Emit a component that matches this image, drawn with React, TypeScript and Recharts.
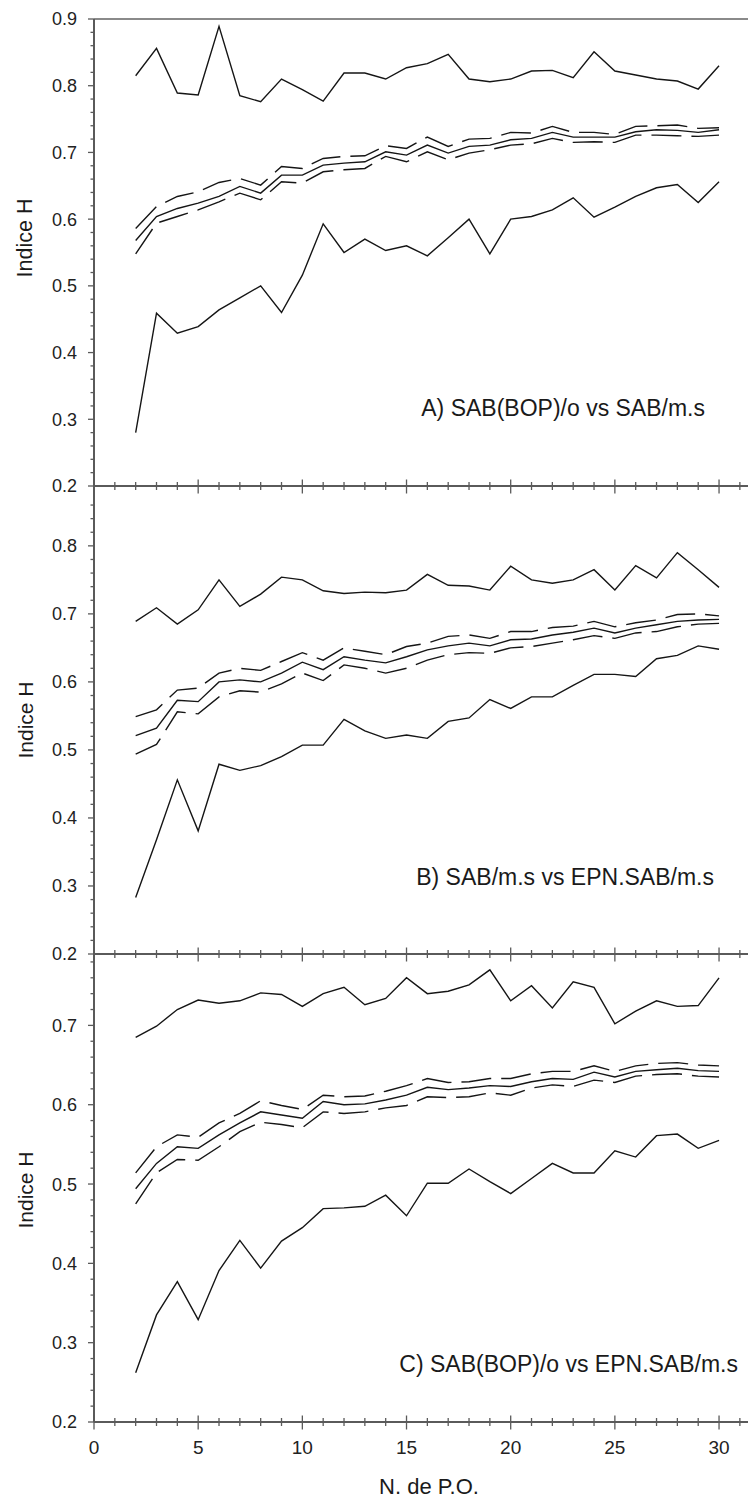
import React from 'react';
import { LineChart, Line, XAxis, YAxis, ReferenceLine } from 'recharts';

if (typeof document !== 'undefined') {
  document.body.style.margin = '0';
  document.body.style.overflow = 'hidden';
}

const nValues = [2, 3, 4, 5, 6, 7, 8, 9, 10, 11, 12, 13, 14, 15, 16, 17, 18, 19, 20, 21, 22, 23, 24, 25, 26, 27, 28, 29, 30];

// Panel A
const aMax = [0.815, 0.856, 0.789, 0.786, 0.889, 0.785, 0.776, 0.810, 0.794, 0.777, 0.819, 0.819, 0.810, 0.827, 0.833, 0.847, 0.810, 0.806, 0.810, 0.822, 0.823, 0.812, 0.851, 0.822, 0.816, 0.810, 0.807, 0.795, 0.830];
const aMin = [0.280, 0.459, 0.429, 0.439, 0.464, 0.482, 0.500, 0.460, 0.516, 0.593, 0.550, 0.570, 0.553, 0.560, 0.545, 0.572, 0.600, 0.548, 0.600, 0.604, 0.614, 0.632, 0.603, 0.618, 0.634, 0.647, 0.652, 0.625, 0.656];
const aMean = [0.568, 0.604, 0.616, 0.624, 0.634, 0.649, 0.639, 0.666, 0.666, 0.681, 0.684, 0.686, 0.701, 0.696, 0.711, 0.699, 0.709, 0.711, 0.719, 0.721, 0.730, 0.723, 0.723, 0.723, 0.731, 0.734, 0.733, 0.730, 0.734];
const aUpper = [0.586, 0.619, 0.634, 0.641, 0.655, 0.661, 0.651, 0.679, 0.676, 0.691, 0.694, 0.695, 0.710, 0.706, 0.723, 0.709, 0.720, 0.721, 0.730, 0.729, 0.739, 0.730, 0.730, 0.727, 0.739, 0.740, 0.741, 0.736, 0.737];
const aLower = [0.548, 0.594, 0.604, 0.614, 0.626, 0.639, 0.629, 0.656, 0.654, 0.671, 0.674, 0.676, 0.694, 0.686, 0.701, 0.689, 0.699, 0.704, 0.711, 0.713, 0.721, 0.715, 0.716, 0.715, 0.726, 0.726, 0.725, 0.724, 0.726];

// Panel B
const bMax = [0.689, 0.709, 0.685, 0.706, 0.750, 0.711, 0.729, 0.754, 0.750, 0.734, 0.730, 0.732, 0.731, 0.735, 0.758, 0.742, 0.741, 0.735, 0.770, 0.750, 0.745, 0.750, 0.765, 0.735, 0.771, 0.753, 0.790, 0.765, 0.739];
const bMin = [0.283, 0.368, 0.456, 0.381, 0.479, 0.470, 0.477, 0.490, 0.507, 0.507, 0.545, 0.528, 0.517, 0.522, 0.517, 0.542, 0.547, 0.574, 0.561, 0.578, 0.578, 0.595, 0.611, 0.611, 0.608, 0.634, 0.639, 0.653, 0.648];
const bMean = [0.521, 0.532, 0.573, 0.571, 0.600, 0.603, 0.600, 0.613, 0.629, 0.618, 0.637, 0.632, 0.628, 0.637, 0.647, 0.653, 0.657, 0.653, 0.662, 0.663, 0.669, 0.673, 0.679, 0.672, 0.679, 0.684, 0.689, 0.691, 0.692];
const bUpper = [0.549, 0.559, 0.588, 0.591, 0.613, 0.620, 0.617, 0.630, 0.643, 0.632, 0.650, 0.645, 0.640, 0.652, 0.657, 0.667, 0.669, 0.664, 0.674, 0.674, 0.680, 0.682, 0.689, 0.681, 0.687, 0.691, 0.699, 0.700, 0.697];
const bLower = [0.494, 0.508, 0.556, 0.553, 0.578, 0.587, 0.585, 0.597, 0.613, 0.602, 0.625, 0.620, 0.613, 0.620, 0.632, 0.640, 0.643, 0.642, 0.650, 0.652, 0.657, 0.662, 0.668, 0.664, 0.672, 0.674, 0.681, 0.685, 0.686];

// Panel C
const cMax = [0.685, 0.699, 0.720, 0.732, 0.728, 0.731, 0.741, 0.739, 0.724, 0.740, 0.748, 0.726, 0.734, 0.760, 0.740, 0.743, 0.751, 0.770, 0.731, 0.750, 0.722, 0.755, 0.748, 0.702, 0.718, 0.731, 0.724, 0.725, 0.760];
const cMin = [0.262, 0.335, 0.377, 0.329, 0.391, 0.429, 0.394, 0.428, 0.445, 0.469, 0.470, 0.472, 0.486, 0.460, 0.501, 0.501, 0.519, 0.503, 0.488, 0.507, 0.526, 0.514, 0.514, 0.542, 0.534, 0.561, 0.563, 0.545, 0.555];
const cMean = [0.494, 0.526, 0.547, 0.545, 0.562, 0.577, 0.591, 0.587, 0.583, 0.604, 0.600, 0.601, 0.606, 0.612, 0.622, 0.619, 0.621, 0.624, 0.623, 0.629, 0.633, 0.632, 0.641, 0.635, 0.642, 0.644, 0.646, 0.643, 0.642];
const cUpper = [0.514, 0.547, 0.562, 0.559, 0.577, 0.589, 0.605, 0.599, 0.594, 0.612, 0.610, 0.611, 0.617, 0.624, 0.633, 0.628, 0.629, 0.633, 0.633, 0.639, 0.642, 0.642, 0.649, 0.642, 0.649, 0.652, 0.653, 0.650, 0.649];
const cLower = [0.475, 0.514, 0.531, 0.530, 0.547, 0.566, 0.578, 0.575, 0.571, 0.591, 0.589, 0.591, 0.596, 0.599, 0.610, 0.609, 0.610, 0.615, 0.612, 0.621, 0.625, 0.623, 0.631, 0.628, 0.636, 0.638, 0.639, 0.636, 0.635];

// Ticks
const xTicks = [0, 1, 2, 3, 4, 5, 6, 7, 8, 9, 10, 11, 12, 13, 14, 15, 16, 17, 18, 19, 20, 21, 22, 23, 24, 25, 26, 27, 28, 29, 30, 31];
const xLabelTicks = [0, 5, 10, 15, 20, 25, 30];
const yTicksA = [0.2, 0.22, 0.24, 0.26, 0.28, 0.3, 0.32, 0.34, 0.36, 0.38, 0.4, 0.42, 0.44, 0.46, 0.48, 0.5, 0.52, 0.54, 0.56, 0.58, 0.6, 0.62, 0.64, 0.66, 0.68, 0.7, 0.72, 0.74, 0.76, 0.78, 0.8, 0.82, 0.84, 0.86, 0.88, 0.9];
const yTicksB = [0.2, 0.22, 0.24, 0.26, 0.28, 0.3, 0.32, 0.34, 0.36, 0.38, 0.4, 0.42, 0.44, 0.46, 0.48, 0.5, 0.52, 0.54, 0.56, 0.58, 0.6, 0.62, 0.64, 0.66, 0.68, 0.7, 0.72, 0.74, 0.76, 0.78, 0.8, 0.82, 0.84, 0.86];
const yTicksC = [0.2, 0.22, 0.24, 0.26, 0.28, 0.3, 0.32, 0.34, 0.36, 0.38, 0.4, 0.42, 0.44, 0.46, 0.48, 0.5, 0.52, 0.54, 0.56, 0.58, 0.6, 0.62, 0.64, 0.66, 0.68, 0.7, 0.72, 0.74, 0.76, 0.78];
const yMajorLabels = [0.2, 0.3, 0.4, 0.5, 0.6, 0.7, 0.8, 0.9];

const titleA = 'A) SAB(BOP)/o vs SAB/m.s';
const titleB = 'B) SAB/m.s vs EPN.SAB/m.s';
const titleC = 'C) SAB(BOP)/o vs EPN.SAB/m.s';
const yTitle = 'Indice H';
const xTitle = 'N. de P.O.';

const FONT = '"Liberation Sans", Arial, Helvetica, sans-serif';
const AXIS = '#5a5a5a';
const LINE = '#151515';

const build = (mx: number[], mn: number[], me: number[], up: number[], lo: number[]) =>
  nValues.map((n, i) => ({ n, max: mx[i], min: mn[i], mean: me[i], upper: up[i], lower: lo[i] }));

const dataA = build(aMax, aMin, aMean, aUpper, aLower);
const dataB = build(bMax, bMin, bMean, bUpper, bLower);
const dataC = build(cMax, cMin, cMean, cUpper, cLower);

const isMajorY = (v: number) => yMajorLabels.some((m) => Math.abs(m - v) < 1e-6);

const YTick = (props: any) => {
  const { x, y, payload } = props;
  const v = payload.value as number;
  const major = isMajorY(v);
  return (
    <g>
      <line x1={x} x2={x - (major ? 6 : 3.5)} y1={y} y2={y} stroke={AXIS} strokeWidth={1.3} />
      {major && (
        <text x={x - 17} y={y} dy="0.36em" textAnchor="end" fontSize={18} fill="#222" fontFamily={FONT}>
          {v.toFixed(1)}
        </text>
      )}
    </g>
  );
};

const makeXTick = (showLabels: boolean) => (props: any) => {
  const { x, y, payload } = props;
  const v = payload.value as number;
  const major = v % 5 === 0;
  return (
    <g>
      <line x1={x} x2={x} y1={y - (major ? 6.5 : 4)} y2={y + (major ? 7.5 : 4)} stroke={AXIS} strokeWidth={1.3} />
      {showLabels && xLabelTicks.includes(v) && (
        <text x={x} y={y + 32} textAnchor="middle" fontSize={19} fill="#222" fontFamily={FONT}>
          {v}
        </text>
      )}
    </g>
  );
};

const XTickPlain = makeXTick(false);
const XTickLabeled = makeXTick(true);

const X_DOMAIN: [number, number] = [0, 31.39];

type PanelProps = {
  data: any[];
  top: number;
  height: number;
  marginTop: number;
  xHeight: number;
  yDomain: [number, number];
  yTicks: number[];
  labeled: boolean;
  topBorder?: number;
};

const Panel = ({ data, top, height, marginTop, xHeight, yDomain, yTicks, labeled, topBorder }: PanelProps) => (
  <div style={{ position: 'absolute', left: 0, top, width: 748, height }}>
    <LineChart width={748} height={height} data={data} margin={{ top: marginTop, right: 0, bottom: 0, left: 0 }}>
      <XAxis
        dataKey="n"
        type="number"
        domain={X_DOMAIN}
        ticks={xTicks}
        interval={0}
        height={xHeight}
        tickSize={0}
        tickMargin={0}
        tickLine={false}
        axisLine={{ stroke: AXIS, strokeWidth: 2 }}
        tick={labeled ? <XTickLabeled /> : <XTickPlain />}
      />
      <YAxis
        type="number"
        domain={yDomain}
        ticks={yTicks}
        interval={0}
        width={94}
        tickSize={0}
        tickMargin={0}
        tickLine={false}
        axisLine={{ stroke: AXIS, strokeWidth: 2 }}
        tick={<YTick />}
      />
      {topBorder !== undefined && <ReferenceLine y={topBorder} stroke="#8a8a8a" strokeWidth={2} />}
      <Line type="linear" dataKey="max" stroke={LINE} strokeWidth={1.4} dot={false} isAnimationActive={false} />
      <Line type="linear" dataKey="min" stroke={LINE} strokeWidth={1.4} dot={false} isAnimationActive={false} />
      <Line type="linear" dataKey="mean" stroke={LINE} strokeWidth={1.4} dot={false} isAnimationActive={false} />
      <Line type="linear" dataKey="upper" stroke={LINE} strokeWidth={1.4} strokeDasharray="30 10" dot={false} isAnimationActive={false} />
      <Line type="linear" dataKey="lower" stroke={LINE} strokeWidth={1.4} strokeDasharray="30 10" dot={false} isAnimationActive={false} />
    </LineChart>
  </div>
);

const txt = { fill: '#1a1a1a', fontFamily: FONT } as const;

export default function App() {
  return (
    <div style={{ position: 'relative', width: 748, height: 1503, background: '#fff', overflow: 'hidden' }}>
      <Panel data={dataA} top={0} height={500} marginTop={19} xHeight={14} yDomain={[0.2, 0.9]} yTicks={yTicksA} labeled={false} topBorder={0.9} />
      <Panel data={dataB} top={476} height={492} marginTop={10} xHeight={14} yDomain={[0.2, 0.888]} yTicks={yTicksB} labeled={false} />
      <Panel data={dataC} top={944} height={559} marginTop={10} xHeight={81} yDomain={[0.2, 0.79]} yTicks={yTicksC} labeled={true} />
      <svg width={748} height={1503} style={{ position: 'absolute', left: 0, top: 0, pointerEvents: 'none' }}>
        <text x={705} y={416} textAnchor="end" fontSize={23} {...txt}>{titleA}</text>
        <text x={714} y={885} textAnchor="end" fontSize={23} {...txt}>{titleB}</text>
        <text x={738} y={1372} textAnchor="end" fontSize={23} {...txt}>{titleC}</text>
        <text x={25} y={238} transform="rotate(-90 25 238)" textAnchor="middle" dominantBaseline="central" fontSize={21.5} {...txt}>{yTitle}</text>
        <text x={25} y={720} transform="rotate(-90 25 720)" textAnchor="middle" dominantBaseline="central" fontSize={21} {...txt}>{yTitle}</text>
        <text x={25} y={1190} transform="rotate(-90 25 1190)" textAnchor="middle" dominantBaseline="central" fontSize={21} {...txt}>{yTitle}</text>
        <text x={429} y={1494} textAnchor="middle" fontSize={22} {...txt}>{xTitle}</text>
      </svg>
    </div>
  );
}
